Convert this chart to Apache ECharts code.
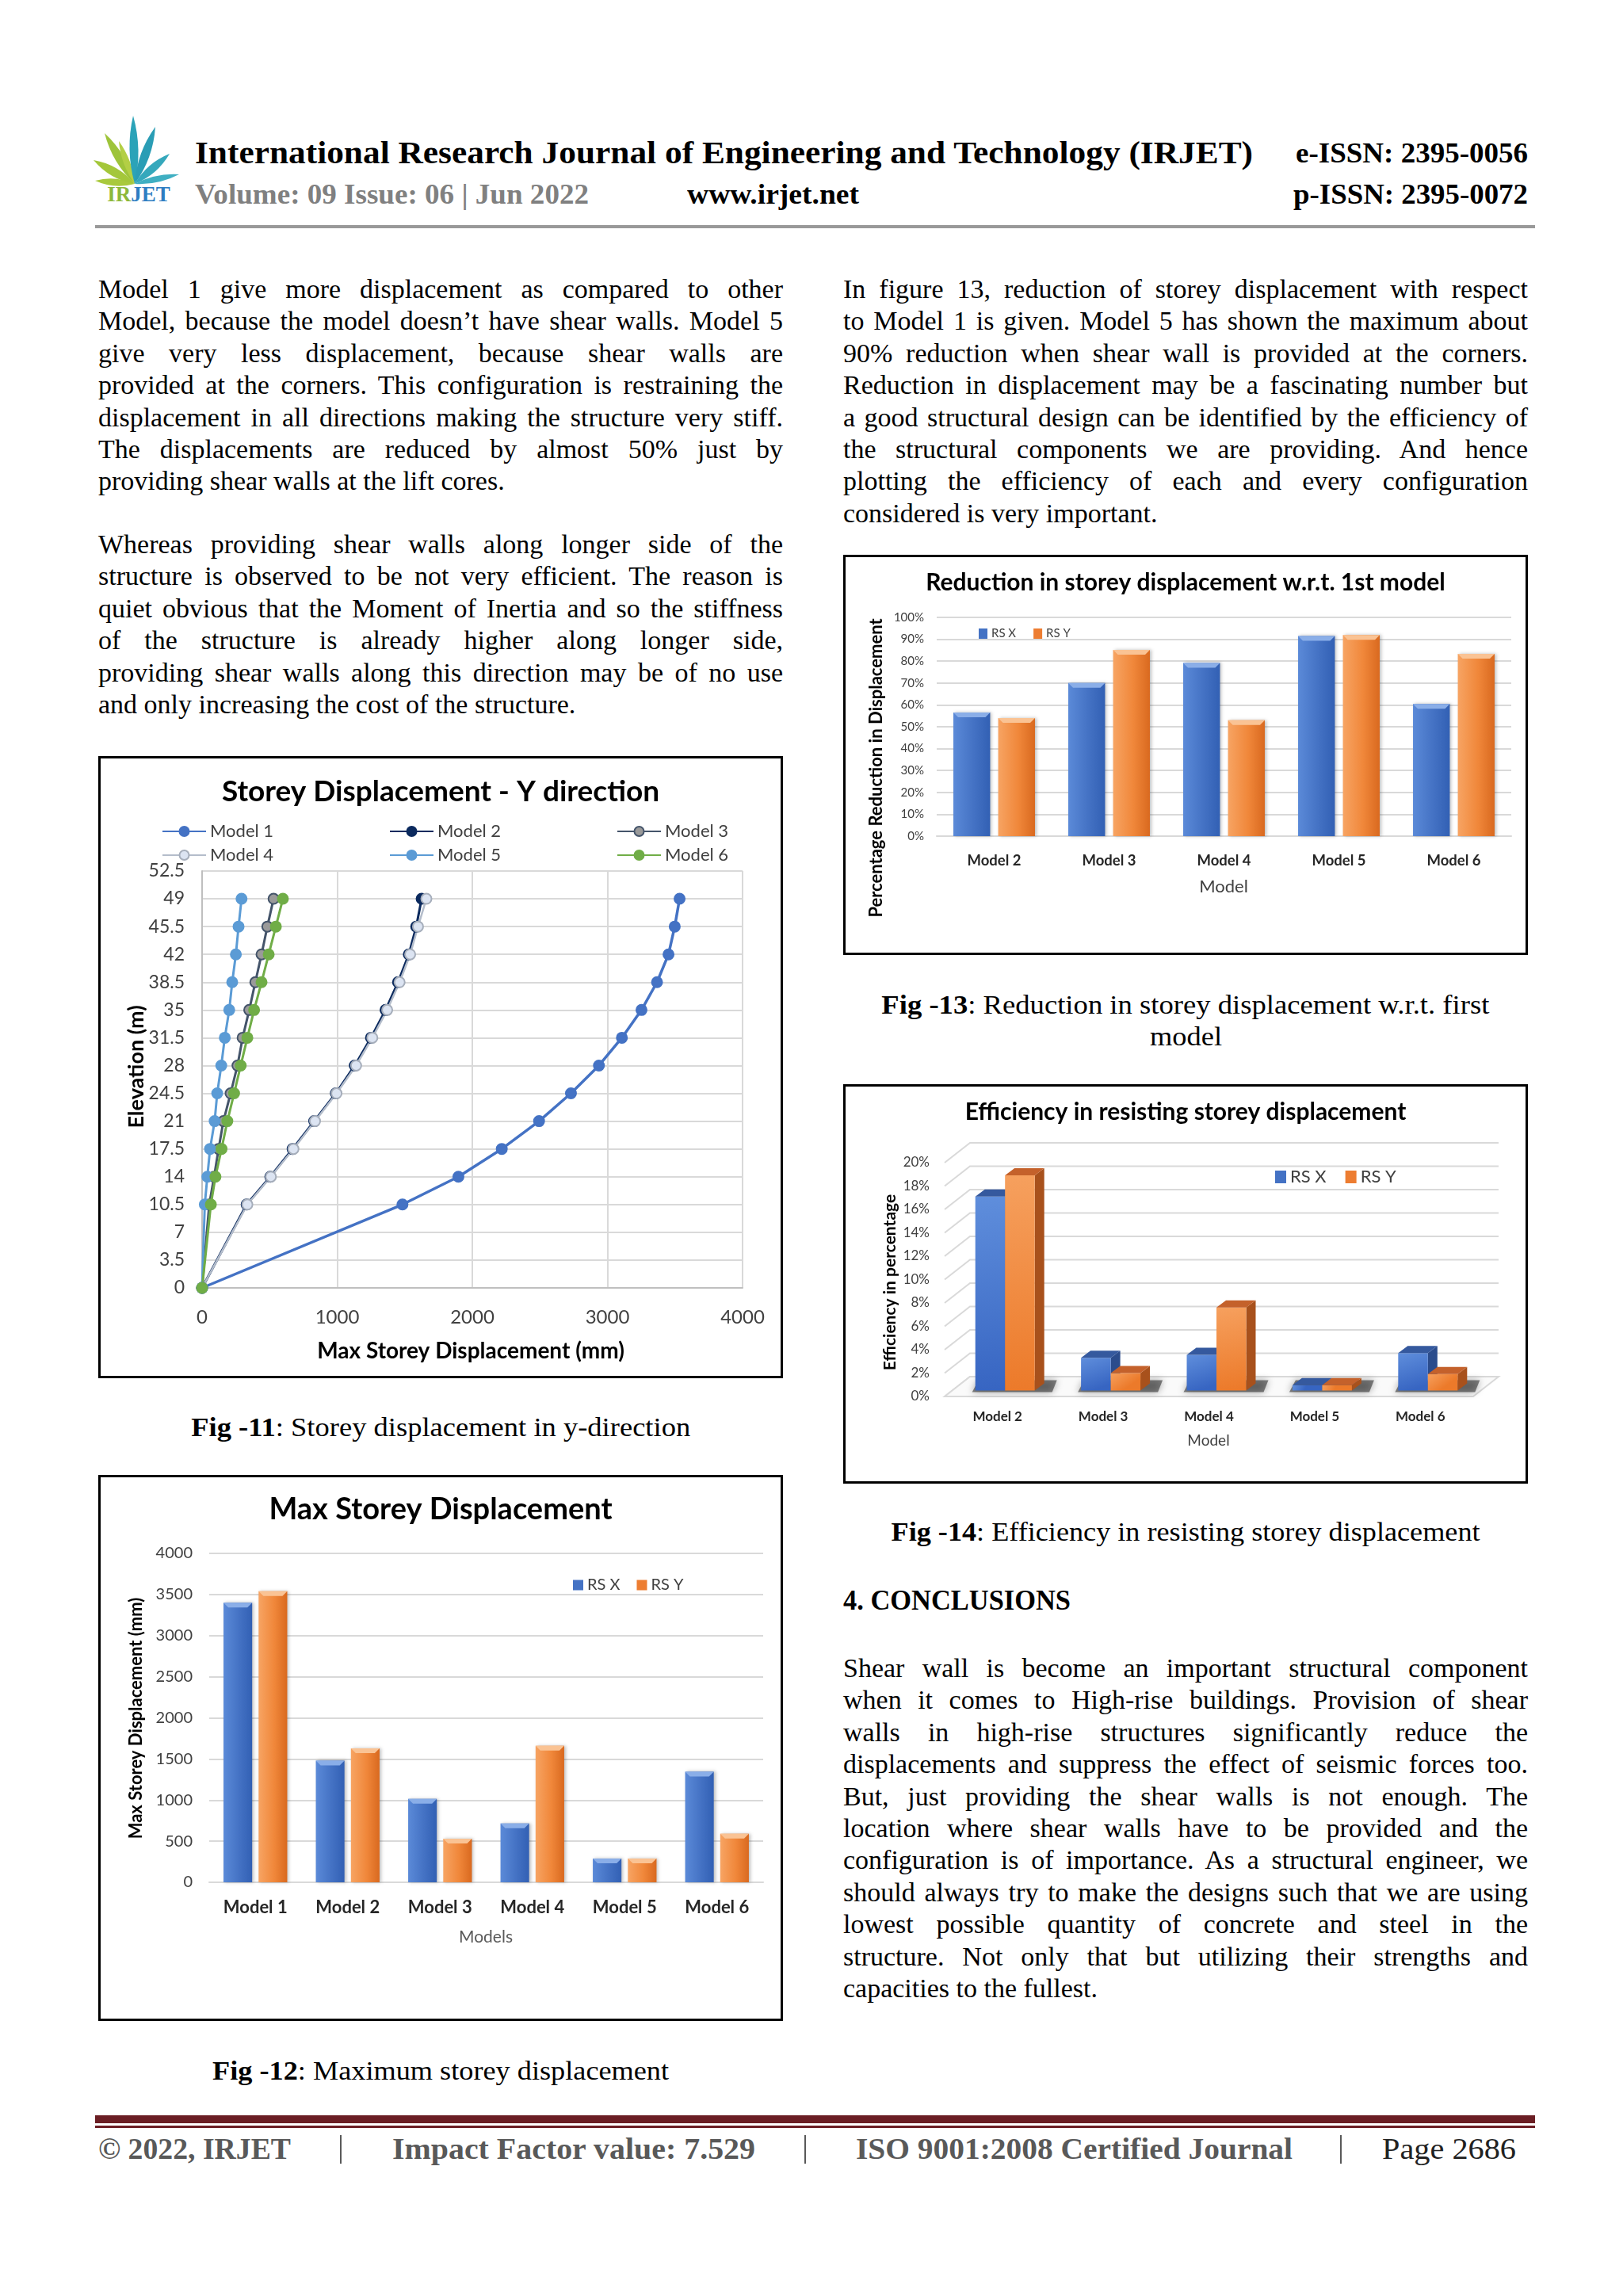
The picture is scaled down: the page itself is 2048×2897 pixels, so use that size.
<!DOCTYPE html>
<html>
<head>
<meta charset="utf-8">
<title>IRJET – Storey displacement charts</title>
<script src="https://cdn.jsdelivr.net/npm/echarts@6.0.0/dist/echarts.min.js"></script>
<style>
  html, body { margin:0; padding:0; background:#fff; }
  #page { position:relative; width:2048px; height:2897px; overflow:hidden; background:#fff;
          font-family:"Liberation Serif","Times New Roman",serif; color:#000; }
  .t { position:absolute; white-space:nowrap; transform-origin:0 50%; }
  .para { position:absolute; width:864px; font-size:34px; line-height:40.4px; }
  .para div { height:40.4px; text-align:justify; text-align-last:justify; }
  .para div.last { text-align:left; text-align-last:left; }
  .cap { position:absolute; width:864px; text-align:center; font-size:34px; line-height:40.4px; }
  .cap span { display:inline-block; white-space:nowrap; transform-origin:50% 50%; }
  .chart { position:absolute; background:#fff; }
  .frame { position:absolute; border:3px solid #000; box-sizing:border-box; pointer-events:none; }
  .rule { position:absolute; }
</style>
</head>
<body>
<div id="page">
  <!-- header -->
  <svg id="logo" class="t" style="left:110px;top:140px;" width="130" height="140" viewBox="0 0 130 140"></svg>
  <div class="t" data-w="1335" style="left:246px;top:170px;font-size:40px;line-height:46px;font-weight:bold;">International Research Journal of Engineering and Technology (IRJET)</div>
  <div class="t" data-w="293" style="left:1635px;top:172px;font-size:36px;line-height:42px;font-weight:bold;">e-ISSN: 2395-0056</div>
  <div class="t" data-w="497" style="left:246px;top:224px;font-size:36px;line-height:42px;font-weight:bold;color:#808080;">Volume: 09 Issue: 06 | Jun 2022</div>
  <div class="t" data-w="217" style="left:867px;top:224px;font-size:36px;line-height:42px;font-weight:bold;">www.irjet.net</div>
  <div class="t" data-w="296" style="left:1632px;top:224px;font-size:36px;line-height:42px;font-weight:bold;">p-ISSN: 2395-0072</div>
  <div class="rule" style="left:120px;top:284px;width:1817px;height:4px;background:#999;"></div>

  <!-- left column text -->
  <div class="para" style="left:124px;top:345px;">
    <div>Model 1 give more displacement as compared to other</div>
    <div>Model, because the model doesn’t have shear walls. Model 5</div>
    <div>give very less displacement, because shear walls are</div>
    <div>provided at the corners. This configuration is restraining the</div>
    <div>displacement in all directions making the structure very stiff.</div>
    <div>The displacements are reduced by almost 50% just by</div>
    <div class="last">providing shear walls at the lift cores.</div>
  </div>
  <div class="para" style="left:124px;top:667px;">
    <div>Whereas providing shear walls along longer side of the</div>
    <div>structure is observed to be not very efficient. The reason is</div>
    <div>quiet obvious that the Moment of Inertia and so the stiffness</div>
    <div>of the structure is already higher along longer side,</div>
    <div>providing shear walls along this direction may be of no use</div>
    <div class="last">and only increasing the cost of the structure.</div>
  </div>

  <!-- right column text -->
  <div class="para" style="left:1064px;top:345px;">
    <div>In figure 13, reduction of storey displacement with respect</div>
    <div>to Model 1 is given. Model 5 has shown the maximum about</div>
    <div>90% reduction when shear wall is provided at the corners.</div>
    <div>Reduction in displacement may be a fascinating number but</div>
    <div>a good structural design can be identified by the efficiency of</div>
    <div>the structural components we are providing. And hence</div>
    <div>plotting the efficiency of each and every configuration</div>
    <div class="last">considered is very important.</div>
  </div>

  <!-- charts -->
  <div id="fig11" class="chart" style="left:124px;top:954px;width:864px;height:785px;"></div>
  <div class="frame" style="left:124px;top:954px;width:864px;height:785px;"></div>
  <div class="cap" style="left:124px;top:1781px;"><span data-w="630"><b>Fig -11</b>: Storey displacement in y-direction</span></div>

  <div id="fig12" class="chart" style="left:124px;top:1861px;width:864px;height:689px;"></div>
  <div class="frame" style="left:124px;top:1861px;width:864px;height:689px;"></div>
  <div class="cap" style="left:124px;top:2593px;"><span data-w="576"><b>Fig -12</b>: Maximum storey displacement</span></div>

  <div id="fig13" class="chart" style="left:1064px;top:700px;width:864px;height:505px;"></div>
  <div class="frame" style="left:1064px;top:700px;width:864px;height:505px;"></div>
  <div class="cap" style="left:1064px;top:1248px;"><span data-w="767"><b>Fig -13</b>: Reduction in storey displacement w.r.t. first</span><br><span data-w="91">model</span></div>

  <div id="fig14" class="chart" style="left:1064px;top:1368px;width:864px;height:504px;"></div>
  <div class="frame" style="left:1064px;top:1368px;width:864px;height:504px;"></div>
  <div class="cap" style="left:1064px;top:1913px;"><span data-w="743"><b>Fig -14</b>: Efficiency in resisting storey displacement</span></div>

  <div class="t" data-w="287" style="left:1064px;top:1999px;font-size:35px;line-height:42px;font-weight:bold;">4. CONCLUSIONS</div>
  <div class="para" style="left:1064px;top:2085px;">
    <div>Shear wall is become an important structural component</div>
    <div>when it comes to High-rise buildings. Provision of shear</div>
    <div>walls in high-rise structures significantly reduce the</div>
    <div>displacements and suppress the effect of seismic forces too.</div>
    <div>But, just providing the shear walls is not enough. The</div>
    <div>location where shear walls have to be provided and the</div>
    <div>configuration is of importance. As a structural engineer, we</div>
    <div>should always try to make the designs such that we are using</div>
    <div>lowest possible quantity of concrete and steel in the</div>
    <div>structure. Not only that but utilizing their strengths and</div>
    <div class="last">capacities to the fullest.</div>
  </div>

  <!-- footer -->
  <div class="rule" style="left:120px;top:2669px;width:1817px;height:10px;background:#6B1E24;"></div>
  <div class="rule" style="left:120px;top:2682px;width:1817px;height:3px;background:#6B1E24;"></div>
  <div class="t" data-w="243" style="left:124px;top:2689px;font-size:38px;line-height:44px;font-weight:bold;color:#595959;">© 2022, IRJET</div>
  <div class="rule" style="left:429px;top:2694px;width:2px;height:36px;background:#595959;"></div>
  <div class="t" data-w="458" style="left:495px;top:2689px;font-size:38px;line-height:44px;font-weight:bold;color:#595959;">Impact Factor value: 7.529</div>
  <div class="rule" style="left:1015px;top:2694px;width:2px;height:36px;background:#595959;"></div>
  <div class="t" data-w="551" style="left:1080px;top:2689px;font-size:38px;line-height:44px;font-weight:bold;color:#595959;">ISO 9001:2008 Certified Journal</div>
  <div class="rule" style="left:1691px;top:2694px;width:2px;height:36px;background:#595959;"></div>
  <div class="t" data-w="169" style="left:1744px;top:2689px;font-size:38px;line-height:44px;color:#222;">Page 2686</div>
</div>

<script>
// ---------------- data ----------------
const elevations = [0, 10.5, 14, 17.5, 21, 24.5, 28, 31.5, 35, 38.5, 42, 45.5, 49];
const dispModel1 = [0, 1483, 1897, 2218, 2494, 2730, 2937, 3107, 3252, 3367, 3452, 3498, 3534];
const dispModel2 = [0, 330, 505, 670, 830, 990, 1130, 1250, 1358, 1450, 1530, 1585, 1625];
const dispModel3 = [0, 53, 89, 122, 158, 211, 262, 300, 349, 394, 440, 483, 529];
const dispModel4 = [0, 335, 509, 676, 836, 995, 1140, 1260, 1370, 1462, 1540, 1598, 1660];
const dispModel5 = [0, 20, 39, 59, 93, 112, 142, 168, 201, 223, 250, 270, 292];
const dispModel6 = [0, 65, 99, 144, 187, 237, 286, 335, 385, 440, 493, 546, 598];

const models = ['Model 1', 'Model 2', 'Model 3', 'Model 4', 'Model 5', 'Model 6'];
const maxDispX = [3400, 1480, 1015, 715, 290, 1345];
const maxDispY = [3540, 1630, 530, 1660, 290, 590];

const compModels = ['Model 2', 'Model 3', 'Model 4', 'Model 5', 'Model 6'];
const reductionX = [56.5, 70.0, 79.2, 91.5, 60.4];
const reductionY = [54.0, 85.1, 53.0, 91.9, 83.3];

const efficiencyX = [16.6, 2.8, 3.05, 0.45, 3.2];
const efficiencyY = [18.4, 1.5, 7.1, 0.45, 1.4];

// ---------------- logo ----------------
(function () {
  const svg = document.getElementById('logo');
  const O = [60, 92];
  const leaves = [
    [[10, 88], 9, '#A9C93C'], [[8, 62], 11, '#A4C73A'], [[22, 28], 11, '#9EC43A'], [[40, 38], 8, '#B3CF45'],
    [[58, 6], 11, '#2BA3B8'], [[86, 20], 11, '#2A9DB5'], [[104, 54], 10, '#35A8BC'], [[116, 80], 8, '#3FAFC2']
  ];
  let html = '';
  leaves.forEach(([T, w, col]) => {
    const mx = (O[0] + T[0]) / 2, my = (O[1] + T[1]) / 2;
    const dx = T[0] - O[0], dy = T[1] - O[1], L = Math.hypot(dx, dy);
    const px = -dy / L * w, py = dx / L * w;
    html += `<path d="M${O[0]},${O[1]} Q${mx + px},${my + py} ${T[0]},${T[1]} Q${mx - px},${my - py} ${O[0]},${O[1]}Z" fill="${col}"/>`;
  });
  html += '<text x="65" y="114" text-anchor="middle" font-family="Liberation Serif" font-weight="bold" font-size="27"><tspan fill="#8DB83A">IR</tspan><tspan fill="#2E7DC2">JET</tspan></text>';
  svg.innerHTML = html;
})();

// ---------------- helpers ----------------
const FF = 'Lato, "Noto Sans", sans-serif';
const GRID_C = '#D9D9D9';
const plain = v => String(v);

function axisName(text, x, y, size, rotate, bold, color) {
  return { type: 'text', x: x, y: y, rotation: rotate ? Math.PI / 2 : 0, silent: true,
    style: { text: text, fontSize: size, fontWeight: bold ? 'bold' : 'normal', fontFamily: FF,
      fill: color || '#000', textAlign: 'center', textVerticalAlign: 'middle', align: 'center', verticalAlign: 'middle' } };
}

const PAL = {
  blue:   { l: '#5B8AD8', m: '#4472C4', r: '#3260B4', bevel: '#8AAEE8', top: '#35599E', side: '#2B4C8C', fl: '#5F8EDC', fr: '#3765C2' },
  orange: { l: '#F7A463', m: '#F0873A', r: '#D9691F', bevel: '#FAC394', top: '#C4612B', side: '#A8511C', fl: '#F6A05E', fr: '#EC7A2A' }
};

function bevelBar(side, pal, wRatio, gRatio) {
  return function (params, api) {
    const i = api.value(0), v = api.value(1);
    const top = api.coord([i, v]), base = api.coord([i, 0]);
    const band = api.size([1, 0])[0];
    const w = band * wRatio, g = band * gRatio;
    const x0 = side < 0 ? top[0] - g / 2 - w : top[0] + g / 2;
    const x1 = x0 + w, yt = top[1], yb = base[1];
    const bev = Math.min(6, (yb - yt) / 2);
    return { type: 'group', children: [
      { type: 'rect', shape: { x: x0, y: yt, width: w, height: yb - yt },
        style: { fill: new echarts.graphic.LinearGradient(0, 0, 1, 0, [
          { offset: 0, color: pal.l }, { offset: 0.55, color: pal.m }, { offset: 1, color: pal.r }]),
          shadowBlur: 4, shadowOffsetX: 2, shadowColor: 'rgba(0,0,0,0.25)' } },
      { type: 'polygon', shape: { points: [[x0, yt], [x1, yt], [x1 - bev, yt + bev], [x0 + bev, yt + bev]] },
        style: { fill: pal.bevel } }
    ] };
  };
}

// ---------------- Fig 11 ----------------
const c11 = echarts.init(document.getElementById('fig11'));
function lineSeries(name, disp, lineColor, fill, border, lw) {
  return { type: 'line', name: name, data: elevations.map((e, k) => [disp[k], e]),
    symbol: 'circle', symbolSize: 13, showSymbol: true, animation: false,
    lineStyle: { color: lineColor, width: lw },
    itemStyle: { color: fill, borderColor: border, borderWidth: 2 },
    emphasis: { disabled: true } };
}
const legPos = [[80, 84], [367, 84], [654, 84], [80, 114], [367, 114], [654, 114]];
c11.setOption({
  animation: false,
  textStyle: { fontFamily: FF },
  title: { text: 'Storey Displacement - Y direction', left: 'center', top: 27, padding: 0,
    textStyle: { fontSize: 37, fontWeight: 'bold', color: '#000', fontFamily: FF } },
  legend: models.map((m, i) => ({ data: [m], left: legPos[i][0], top: legPos[i][1], padding: 0,
    itemWidth: 55, itemHeight: 15, itemGap: 8,
    textStyle: { fontSize: 22, color: '#404040', fontFamily: FF } })),
  grid: { left: 131, top: 145, width: 682, height: 526 },
  xAxis: { type: 'value', min: 0, max: 4000, interval: 1000,
    axisLine: { show: true, lineStyle: { color: '#BFBFBF', width: 2 } }, axisTick: { show: false },
    splitLine: { lineStyle: { color: GRID_C, width: 2 } },
    axisLabel: { fontSize: 24, color: '#404040', margin: 25, fontFamily: FF, formatter: plain } },
  yAxis: { type: 'value', min: 0, max: 52.5, interval: 3.5,
    axisLine: { show: true, lineStyle: { color: '#BFBFBF', width: 2 } }, axisTick: { show: false },
    splitLine: { lineStyle: { color: GRID_C, width: 2 } },
    axisLabel: { fontSize: 23, color: '#404040', margin: 22, fontFamily: FF, formatter: plain } },
  graphic: [
    axisName('Max Storey Displacement (mm)', 470, 751, 28, false, true),
    axisName('Elevation (m)', 48, 392, 27, true, true)
  ],
  series: [
    lineSeries('Model 1', dispModel1, '#4472C4', '#4472C4', '#4472C4', 3.5),
    lineSeries('Model 2', dispModel2, '#0B2A5E', '#0B2A5E', '#0B2A5E', 3),
    lineSeries('Model 3', dispModel3, '#44546A', '#9A9A9A', '#44546A', 3),
    lineSeries('Model 4', dispModel4, '#B4BDCB', '#DCE4F2', '#A6AEBB', 2.5),
    lineSeries('Model 5', dispModel5, '#5B9BD5', '#5B9BD5', '#5B9BD5', 3),
    lineSeries('Model 6', dispModel6, '#70AD47', '#70AD47', '#70AD47', 3)
  ]
});

// ---------------- Fig 12 ----------------
const c12 = echarts.init(document.getElementById('fig12'));
c12.setOption({
  animation: false,
  textStyle: { fontFamily: FF },
  title: { text: 'Max Storey Displacement', left: 'center', top: 25, padding: 0,
    textStyle: { fontSize: 38, fontWeight: 'bold', color: '#000', fontFamily: FF } },
  legend: { data: ['RS X', 'RS Y'], left: 599, top: 129, padding: 0, icon: 'rect', itemWidth: 13, itemHeight: 13, itemGap: 21,
    textStyle: { fontSize: 20, color: '#404040', fontFamily: FF } },
  grid: { left: 140, top: 99, width: 699, height: 415 },
  xAxis: { type: 'category', data: models,
    axisLine: { lineStyle: { color: GRID_C, width: 2 } }, axisTick: { show: false },
    axisLabel: { fontSize: 22, fontWeight: 'bold', color: '#262626', margin: 21, fontFamily: FF } },
  yAxis: { type: 'value', min: 0, max: 4000, interval: 500,
    axisLine: { show: false }, axisTick: { show: false },
    splitLine: { lineStyle: { color: GRID_C, width: 2 } },
    axisLabel: { fontSize: 20, color: '#404040', margin: 21, fontFamily: FF, formatter: plain } },
  graphic: [
    axisName('Models', 489, 583, 21, false, false, '#595959'),
    axisName('Max Storey Displacement (mm)', 48, 307, 22, true, true)
  ],
  series: [
    { type: 'custom', name: 'RS X', data: maxDispX.map((v, i) => [i, v]), encode: { x: 0, y: 1 },
      itemStyle: { color: '#4472C4' }, renderItem: bevelBar(-1, PAL.blue, 0.31, 0.07) },
    { type: 'custom', name: 'RS Y', data: maxDispY.map((v, i) => [i, v]), encode: { x: 0, y: 1 },
      itemStyle: { color: '#ED7D31' }, renderItem: bevelBar(1, PAL.orange, 0.31, 0.07) }
  ]
});

// ---------------- Fig 13 ----------------
const c13 = echarts.init(document.getElementById('fig13'));
c13.setOption({
  animation: false,
  textStyle: { fontFamily: FF },
  title: { text: 'Reduction in storey displacement w.r.t. 1st model', left: 'center', top: 20, padding: 0,
    textStyle: { fontSize: 30, fontWeight: 'bold', color: '#000', fontFamily: FF } },
  legend: { data: ['RS X', 'RS Y'], left: 171, top: 92, padding: 0, icon: 'rect', itemWidth: 11, itemHeight: 13, itemGap: 22,
    textStyle: { fontSize: 15, color: '#404040', fontFamily: FF } },
  grid: { left: 118, top: 79, width: 725, height: 276 },
  xAxis: { type: 'category', data: compModels,
    axisLine: { lineStyle: { color: GRID_C, width: 2 } }, axisTick: { show: false },
    axisLabel: { fontSize: 18.5, fontWeight: 'bold', color: '#262626', margin: 22, fontFamily: FF } },
  yAxis: { type: 'value', min: 0, max: 100, interval: 10,
    axisLine: { show: false }, axisTick: { show: false },
    splitLine: { lineStyle: { color: GRID_C, width: 2 } },
    axisLabel: { fontSize: 15, color: '#404040', margin: 16, formatter: '{value}%', fontFamily: FF } },
  graphic: [
    axisName('Model', 480, 419, 22, false, false, '#404040'),
    axisName('Percentage Reduction in Displacement', 42, 269, 22, true, true)
  ],
  series: [
    { type: 'custom', name: 'RS X', data: reductionX.map((v, i) => [i, v]), encode: { x: 0, y: 1 },
      itemStyle: { color: '#4472C4' }, renderItem: bevelBar(-1, PAL.blue, 0.32, 0.07) },
    { type: 'custom', name: 'RS Y', data: reductionY.map((v, i) => [i, v]), encode: { x: 0, y: 1 },
      itemStyle: { color: '#ED7D31' }, renderItem: bevelBar(1, PAL.orange, 0.32, 0.07) }
  ]
});

// ---------------- Fig 14 (pseudo 3D) ----------------
const D3 = { wx: 32, wy: -25, bx: 9.5, by: -7.5, tx: 12, ty: -9, w: 0.281 };
const effTicks = [0, 2, 4, 6, 8, 10, 12, 14, 16, 18, 20];
function frameItem(params, api) {
  const cs = params.coordSys;
  const v = api.value(1);
  const y = api.coord([0, v])[1];
  const kids = [{ type: 'polyline', shape: { points: [[cs.x, y], [cs.x + D3.wx, y + D3.wy], [cs.x + cs.width + D3.wx, y + D3.wy]] },
    style: { stroke: GRID_C, lineWidth: 2, fill: null } }];
  if (v === 0) {
    kids.push({ type: 'polygon', shape: { points: [[cs.x, y], [cs.x + cs.width, y], [cs.x + cs.width + D3.wx, y + D3.wy], [cs.x + D3.wx, y + D3.wy]] },
      style: { stroke: GRID_C, lineWidth: 2, fill: '#fafafa' } });
  }
  return { type: 'group', children: kids };
}
function shadowItem(params, api) {
  const i = api.value(0);
  const b = api.coord([i, 0]);
  const band = api.size([1, 0])[0];
  const w = band * D3.w;
  const cx = b[0] + D3.bx, yb = b[1] + D3.by;
  return { type: 'polygon', shape: { points: [[cx - w - 4, yb + 2], [cx + w + D3.tx + 10, yb + 2], [cx + w + D3.tx + 16, yb + D3.ty - 4], [cx - w + 4, yb + D3.ty - 4]] },
    style: { fill: 'rgba(50,50,50,0.6)', shadowBlur: 10, shadowColor: 'rgba(0,0,0,0.6)' } };
}
function bar3d(side, pal) {
  return function (params, api) {
    const i = api.value(0), v = api.value(1);
    const c = api.coord([i, v]), b = api.coord([i, 0]);
    const band = api.size([1, 0])[0];
    const w = band * D3.w;
    const cx = c[0] + D3.bx;
    const x0 = side < 0 ? cx - w : cx, x1 = x0 + w;
    const yt = c[1] + D3.by, yb = b[1] + D3.by;
    return { type: 'group', children: [
      { type: 'polygon', shape: { points: [[x1, yt], [x1 + D3.tx, yt + D3.ty], [x1 + D3.tx, yb + D3.ty], [x1, yb]] },
        style: { fill: pal.side } },
      { type: 'rect', shape: { x: x0, y: yt, width: w, height: yb - yt },
        style: { fill: new echarts.graphic.LinearGradient(0, 0, 0.4, 1, [{ offset: 0, color: pal.fl }, { offset: 1, color: pal.fr }]) } },
      { type: 'polygon', shape: { points: [[x0, yt], [x1, yt], [x1 + D3.tx, yt + D3.ty], [x0 + D3.tx, yt + D3.ty]] },
        style: { fill: pal.top } }
    ] };
  };
}
const c14 = echarts.init(document.getElementById('fig14'));
c14.setOption({
  animation: false,
  textStyle: { fontFamily: FF },
  title: { text: 'Efficiency in resisting storey displacement', left: 'center', top: 20, padding: 0,
    textStyle: { fontSize: 30, fontWeight: 'bold', color: '#000', fontFamily: FF } },
  legend: { data: ['RS X', 'RS Y'], left: 545, top: 106, padding: 0, icon: 'rect', itemWidth: 14, itemHeight: 16, itemGap: 24,
    textStyle: { fontSize: 22, color: '#404040', fontFamily: FF } },
  grid: { left: 128, top: 99, width: 667, height: 295 },
  xAxis: { type: 'category', data: compModels,
    axisLine: { show: false }, axisTick: { show: false },
    axisLabel: { fontSize: 17, fontWeight: 'bold', color: '#262626', margin: 17, fontFamily: FF } },
  yAxis: { type: 'value', min: 0, max: 20, interval: 2,
    axisLine: { show: false }, axisTick: { show: false }, splitLine: { show: false },
    axisLabel: { fontSize: 17, color: '#404040', margin: 19, formatter: '{value}%', fontFamily: FF } },
  graphic: [
    axisName('Model', 461, 450, 19, false, false, '#404040'),
    axisName('Efficiency in percentage', 59, 250, 21, true, true)
  ],
  series: [
    { type: 'custom', name: 'frame', silent: true, z: 1, data: effTicks.map(v => [0, v]), encode: { x: 0, y: 1 },
      renderItem: frameItem, clip: false },
    { type: 'custom', name: 'shadow', silent: true, z: 2, data: compModels.map((m, i) => [i, 0]), encode: { x: 0, y: 1 },
      renderItem: shadowItem, clip: false },
    { type: 'custom', name: 'RS X', z: 3, data: efficiencyX.map((v, i) => [i, v]), encode: { x: 0, y: 1 },
      itemStyle: { color: '#4472C4' }, renderItem: bar3d(-1, PAL.blue), clip: false },
    { type: 'custom', name: 'RS Y', z: 4, data: efficiencyY.map((v, i) => [i, v]), encode: { x: 0, y: 1 },
      itemStyle: { color: '#ED7D31' }, renderItem: bar3d(1, PAL.orange), clip: false }
  ]
});

// ---------------- fit header/footer/caption text widths ----------------
function fitAll() {
  document.querySelectorAll('[data-w]').forEach(el => {
    el.style.transform = 'none';
    const a = el.getBoundingClientRect().width;
    if (a > 0) el.style.transform = 'scaleX(' + (+el.dataset.w / a) + ')';
  });
}
fitAll();
if (document.fonts && document.fonts.ready) document.fonts.ready.then(fitAll);
</script>
</body>
</html>
